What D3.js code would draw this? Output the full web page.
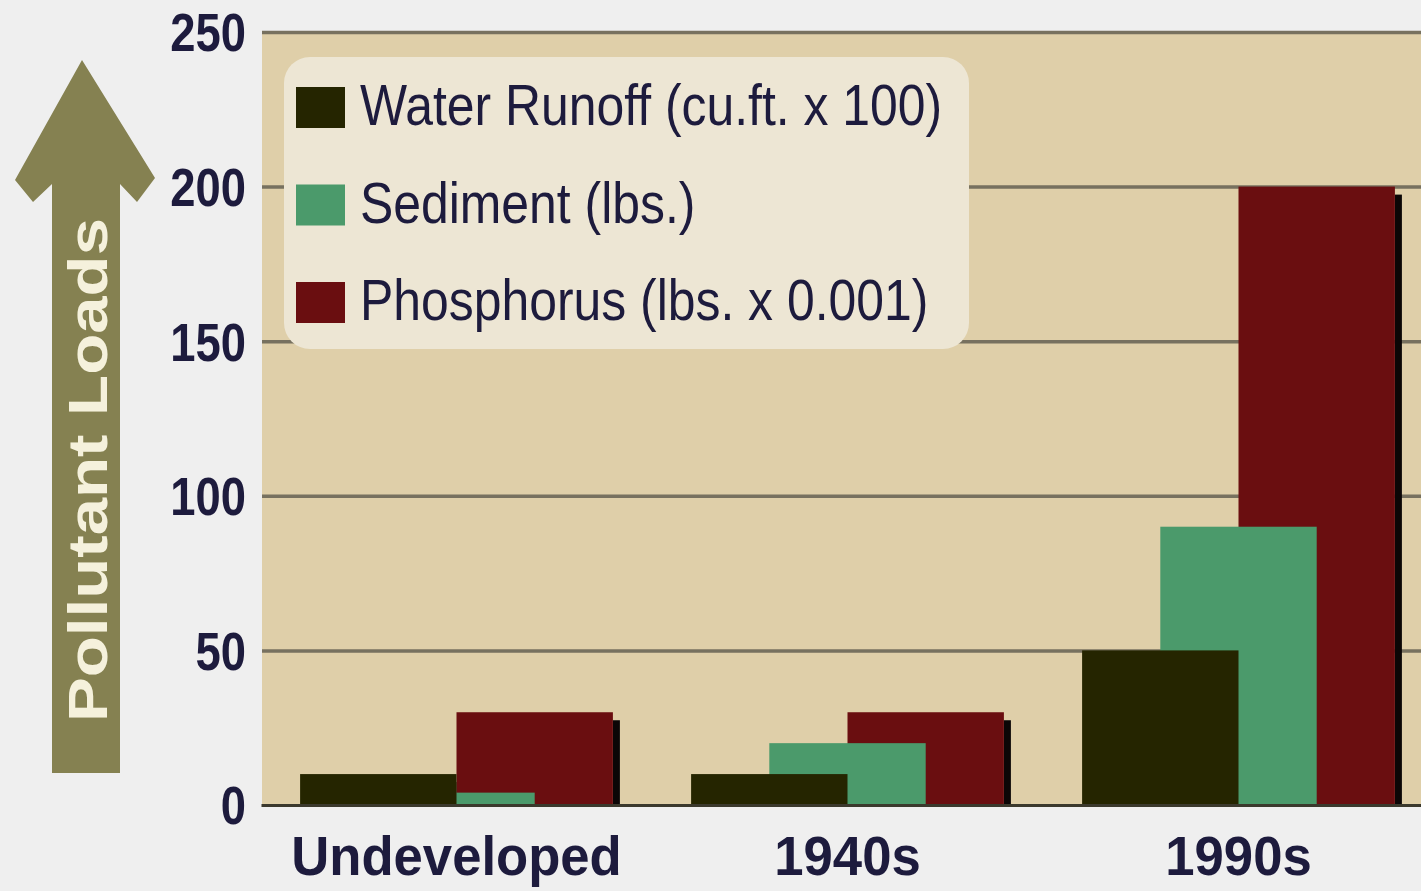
<!DOCTYPE html>
<html>
<head>
<meta charset="utf-8">
<script src="https://cdn.jsdelivr.net/npm/d3@7"></script>
<style>
  html, body { margin: 0; padding: 0; background: #efefef; }
  svg { display: block; }
</style>
</head>
<body>
<svg id="chart" width="1421" height="891"></svg>
<script>
// ---- data ----
const categories = ["Undeveloped", "1940s", "1990s"];
const seriesNames = ["Water Runoff (cu.ft. x 100)", "Sediment (lbs.)", "Phosphorus (lbs. x 0.001)"];
const runoff = [10, 10, 50];
const sediment = [4, 20, 90];
const phosphorus = [30, 30, 200];
const yTicks = [0, 50, 100, 150, 200, 250];
const axisTitle = "Pollutant Loads";

// ---- style ----
const seriesColors = ["#252500", "#4b9a6b", "#6a0e10"];
const textColor = "#1d1b3d";
const plotBg = "#dfcfa9";
const gridColor = "#77715f";

const svg = d3.select("#chart");
const plot = { left: 262, right: 1421, top: 32, bottom: 805 };

const y = d3.scaleLinear().domain([0, 250]).range([plot.bottom, plot.top]);
const x = d3.scaleBand().domain(categories)
  .range([261, 1434]).paddingInner(0.2).paddingOuter(0.1);

function condense(sel, factor) {
  sel.each(function () {
    const len = this.getComputedTextLength();
    d3.select(this).attr("textLength", len * factor).attr("lengthAdjust", "spacingAndGlyphs");
  });
}

// plot background
svg.append("rect")
  .attr("x", plot.left).attr("y", y(250))
  .attr("width", plot.right - plot.left).attr("height", y(0) - y(250))
  .attr("fill", plotBg);

// gridlines
const grid = svg.append("g").attr("transform", `translate(${plot.left},0)`)
  .call(d3.axisLeft(y).tickValues(yTicks.filter(d => d > 0)).tickSize(-(plot.right - plot.left)).tickFormat(""));
grid.select(".domain").remove();
grid.selectAll(".tick line").attr("stroke", gridColor).attr("stroke-width", 3.5);

// bars
const series = [runoff, sediment, phosphorus];
const rows = [];
series.forEach((vals, si) => {
  vals.forEach((v, ci) => rows.push({ si, cat: categories[ci], v }));
});
const bw = x.bandwidth();
const barX = d => x(d.cat) + d.si * bw / 4;
const barW = bw / 2;

// drop shadows first (behind all bars)
svg.append("g").selectAll("rect").data(rows).join("rect")
  .attr("x", d => barX(d) + barW)
  .attr("y", d => y(d.v) + 8)
  .attr("width", 7)
  .attr("height", d => Math.max(0, y(0) - y(d.v) - 8))
  .attr("fill", "#0b0606");

const drawOrder = [2, 1, 0];
drawOrder.forEach(si => {
  svg.append("g").selectAll("rect").data(rows.filter(r => r.si === si)).join("rect")
    .attr("x", barX)
    .attr("y", d => y(d.v))
    .attr("width", barW)
    .attr("height", d => y(0) - y(d.v))
    .attr("fill", seriesColors[si]);
});

// baseline + x labels
const xAxis = svg.append("g").attr("transform", `translate(0,${plot.bottom})`)
  .call(d3.axisBottom(x).tickSize(0).tickSizeOuter(0).tickPadding(30));
xAxis.select(".domain").attr("stroke", "#3b392d").attr("stroke-width", 3);
xAxis.selectAll(".tick text")
  .attr("fill", textColor)
  .style("font-family", "'Liberation Sans', Arial, sans-serif")
  .style("font-weight", "bold")
  .style("font-size", "56px")
  .call(condense, 0.94);

// y tick labels
const yAxis = svg.append("g").attr("transform", `translate(${plot.left},0)`)
  .call(d3.axisLeft(y).tickValues(yTicks).tickSize(0).tickPadding(16));
yAxis.select(".domain").remove();
yAxis.selectAll(".tick text")
  .attr("fill", textColor)
  .attr("dy", "0.35em")
  .style("font-family", "'Liberation Sans', Arial, sans-serif")
  .style("font-weight", "bold")
  .style("font-size", "54px")
  .call(condense, 0.84);

// legend
const legend = svg.append("g");
legend.append("rect")
  .attr("x", 284).attr("y", 57).attr("width", 685).attr("height", 292)
  .attr("rx", 26).attr("fill", "#ede6d4");
const legendRowY = d3.scalePoint().domain(seriesNames).range([107, 302]);
const items = legend.selectAll("g.item").data(seriesNames).join("g")
  .attr("class", "item")
  .attr("transform", d => `translate(0,${legendRowY(d)})`);
items.append("rect")
  .attr("x", 296).attr("y", -20).attr("width", 49).attr("height", 41)
  .attr("fill", (d, i) => seriesColors[i]);
items.append("text")
  .attr("x", 360).attr("y", 18)
  .attr("fill", textColor)
  .style("font-family", "'Liberation Sans', Arial, sans-serif")
  .style("font-size", "57px")
  .text(d => d)
  .call(condense, 0.875);

// arrow with title
const arrowPts = [[82, 60], [155, 178], [137, 202], [120, 184], [120, 773],
                  [52, 773], [52, 184], [33, 202], [15, 180]];
svg.append("path")
  .attr("d", d3.line()(arrowPts) + "Z")
  .attr("fill", "#858151");
svg.append("text")
  .attr("transform", "translate(107,470) rotate(-90)")
  .attr("text-anchor", "middle")
  .attr("fill", "#f5f1dc")
  .style("font-family", "'Liberation Sans', Arial, sans-serif")
  .style("font-weight", "bold")
  .style("font-size", "56px")
  .attr("textLength", 504)
  .attr("lengthAdjust", "spacingAndGlyphs")
  .text(axisTitle);
</script>
</body>
</html>
